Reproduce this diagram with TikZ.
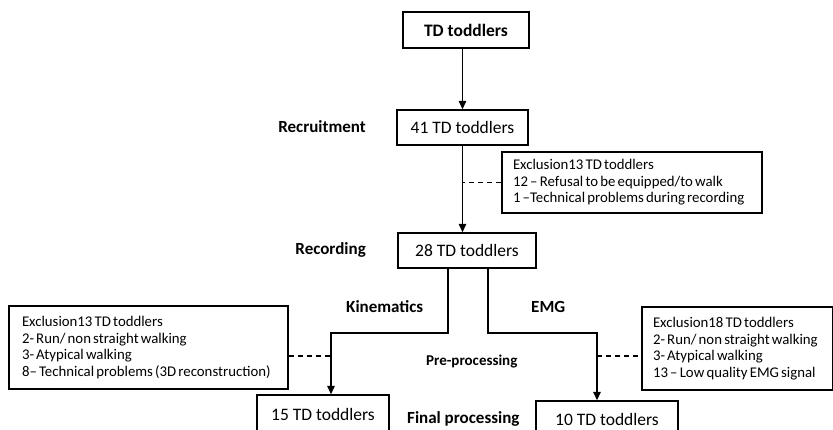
\documentclass[tikz,border=0pt]{standalone}
\usepackage{fontspec}
\setmainfont{Carlito}
\usetikzlibrary{arrows.meta}
\newskip\exwordskip
\exwordskip=2.2pt plus 1pt minus 0.5pt
\newcommand\exsp{\spaceskip=\exwordskip}
\begin{document}
\begin{tikzpicture}[x=1pt,y=-1pt,
  box/.style={draw, line width=1.4pt, inner sep=0pt, font=\fontsize{17.5}{20}\selectfont},
  exbox/.style={draw, line width=1.4pt, inner xsep=11pt, inner ysep=0pt, align=left,
    font=\fontsize{14.8}{16.6}\selectfont, execute at begin node=\exsp},
  lbl/.style={font=\bfseries\fontsize{17}{20}\selectfont, inner sep=0pt},
  conn/.style={line width=1.4pt},
  arr/.style={conn, -{Triangle[length=8.5pt,width=7.5pt]}},
  dsh/.style={line width=1.4pt, dash pattern=on 5pt off 4pt}]
\useasboundingbox (0,0) rectangle (833,430);
\clip (0,0) rectangle (833,430);

\node[box, font=\bfseries\fontsize{17.5}{20}\selectfont, minimum width=126pt, minimum height=36pt] (top) at (466,30) {TD toddlers};
\node[box, minimum width=131pt, minimum height=35pt] (n41) at (462.5,127.5) {41 TD toddlers};
\node[box, minimum width=138pt, minimum height=35pt] (n28) at (467,250.5) {28 TD toddlers};
\node[box, minimum width=132pt, minimum height=38pt] (n15) at (323,414) {15 TD toddlers};
\node[box, minimum width=142pt, minimum height=36pt] (n10) at (607,419) {10 TD toddlers};

\node[exbox, text width=238pt, minimum height=61pt] (ex1) at (632,182.5)
  {\mbox{Exclusion13 TD toddlers}\\\mbox{12 – Refusal to be equipped/to walk}\\\mbox{1 –Technical problems during recording}};
\node[exbox, inner xsep=13pt, text width=253pt, minimum height=83pt] (exL) at (148.5,347.5)
  {\mbox{Exclusion13 TD toddlers}\\\mbox{2- Run/ non straight walking}\\\mbox{3- Atypical walking}\\\mbox{8– Technical problems (3D reconstruction)}};
\node[exbox, text width=169pt, minimum height=83pt] (exR) at (737.5,348.5)
  {\mbox{Exclusion18 TD toddlers}\\\mbox{2- Run/ non straight walking}\\\mbox{3- Atypical walking}\\\mbox{13 – Low quality EMG signal}};

\node[lbl, anchor=east] (rec) at (366,127) {Recruitment};
\node[lbl, anchor=east] (rcd) at (366,250) {Recording};
\node[lbl, anchor=west] (kin) at (346,307) {Kinematics};
\node[lbl, anchor=west] (emg) at (531,307) {EMG};
\node[lbl, anchor=west, font=\bfseries\fontsize{15}{18}\selectfont] (pre) at (426,362) {Pre-processing};
\node[lbl, anchor=west] (fin) at (407,419) {Final processing};

\draw[arr] (top.south -| n41.north) -- (n41.north);
\draw[arr] (n41.south) -- (n41.south |- n28.north);
\draw[dsh] (ex1.west) -- (ex1.west -| n41.south);

\coordinate (kA) at (448,268);
\coordinate (kB) at (448,333);
\coordinate (kC) at (331,333);
\coordinate (dL) at (331,356);
\draw[arr] (kA) -- (kB) -- (kC) -- (kC |- n15.north);
\draw[dsh] (exL.east |- dL) -- (dL);

\coordinate (eA) at (488,268);
\coordinate (eB) at (488,333);
\coordinate (eC) at (597,333);
\coordinate (dR) at (597,356);
\draw[arr] (eA) -- (eB) -- (eC) -- (eC |- n10.north);
\draw[dsh] (dR) -- (dR -| exR.west);
\end{tikzpicture}
\end{document}
